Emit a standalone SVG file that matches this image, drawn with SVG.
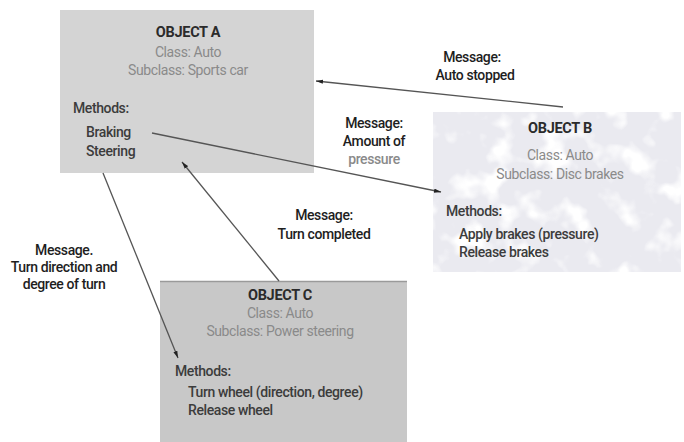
<svg xmlns="http://www.w3.org/2000/svg" width="684" height="442" viewBox="0 0 684 442">
<style>
text{font-family:Roboto,"Liberation Sans",Arial,sans-serif;font-size:13.5px;letter-spacing:-0.4px}
.t{fill:#2b2b2b;font-weight:bold;text-anchor:middle;font-size:14.5px;letter-spacing:-0.3px}
.c{fill:#8a8a8a;text-anchor:middle;font-size:14px}
.m{fill:#3c3c3c;font-weight:500;font-size:14px}
.l{fill:#1e1e1e;font-weight:500;text-anchor:middle;font-size:14px}
.p{fill:#8a8a8a;font-weight:500;text-anchor:middle;font-size:14px}
.conn line{stroke:#555;stroke-width:1.3;fill:none}
</style>
<defs>
<marker id="ah" viewBox="0 0 10 6" refX="10" refY="3" markerWidth="7" markerHeight="4.5" orient="auto" markerUnits="userSpaceOnUse">
<path d="M0,0 L10,3 L0,6 z" fill="#222"/>
</marker>
<filter id="mottle" x="-5%" y="-10%" width="110%" height="120%">
<feTurbulence type="fractalNoise" baseFrequency="0.035" numOctaves="3" seed="7" result="n"/>
<feColorMatrix in="n" type="matrix" values="0 0 0 0 0.82  0 0 0 0 0.82  0 0 0 0 0.87  4.5 0 0 0 -1.2" result="c"/>
<feComposite in="c" in2="SourceGraphic" operator="in"/>
</filter>
</defs>
<rect width="684" height="442" fill="#fff"/>
<g id="objA">
<rect x="60" y="10" width="254" height="163" fill="#d4d4d4"/>
<text class="t" x="188" y="37">OBJECT A</text>
<text class="c" x="188" y="57">Class: Auto</text>
<text class="c" x="188" y="75">Subclass: Sports car</text>
<text class="m" x="73" y="113">Methods:</text>
<text class="m" x="86" y="137">Braking</text>
<text class="m" x="86" y="156">Steering</text>
</g>
<g id="objB">
<rect x="433" y="112" width="248" height="160" fill="#d6d6df" filter="url(#mottle)"/>
<text class="t" x="560" y="133">OBJECT B</text>
<text class="c" x="560" y="160">Class: Auto</text>
<text class="c" x="560" y="179">Subclass: Disc brakes</text>
<text class="m" x="446" y="216">Methods:</text>
<text class="m" x="459" y="239">Apply brakes (pressure)</text>
<text class="m" x="459" y="257">Release brakes</text>
</g>
<g id="objC">
<rect x="160" y="281" width="247" height="161" fill="#c8c8c8"/>
<line x1="160" y1="281.5" x2="407" y2="281.5" stroke="#9a9a9a" stroke-width="1.5"/>
<text class="t" x="280" y="300">OBJECT C</text>
<text class="c" x="280" y="318">Class: Auto</text>
<text class="c" x="280" y="336">Subclass: Power steering</text>
<text class="m" x="175" y="376">Methods:</text>
<text class="m" x="188" y="397">Turn wheel (direction, degree)</text>
<text class="m" x="188" y="415">Release wheel</text>
</g>
<g id="connectors" class="conn">
<line x1="563" y1="107" x2="316" y2="81" marker-end="url(#ah)"/>
<line x1="152" y1="133" x2="441" y2="192" marker-end="url(#ah)"/>
<line x1="279" y1="281" x2="182" y2="162" marker-end="url(#ah)"/>
<line x1="103" y1="173" x2="178" y2="358" marker-end="url(#ah)"/>
</g>
<g id="labels">
<text class="l" x="472" y="62">Message:</text>
<text class="l" x="475" y="80">Auto stopped</text>
<text class="l" x="374" y="128">Message:</text>
<text class="l" x="374" y="146">Amount of</text>
<text class="p" x="374" y="164">pressure</text>
<text class="l" x="324" y="220">Message:</text>
<text class="l" x="324" y="239">Turn completed</text>
<text class="l" x="64" y="255">Message.</text>
<text class="l" x="64" y="272">Turn direction and</text>
<text class="l" x="64" y="289">degree of turn</text>
</g>
</svg>
